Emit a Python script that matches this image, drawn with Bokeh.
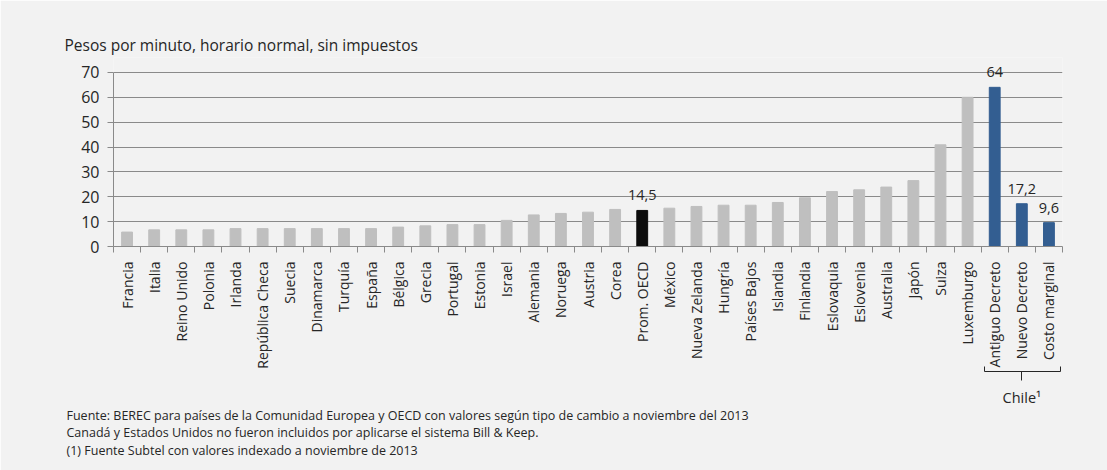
import math
from bokeh.plotting import figure
from bokeh.models import Range1d, FixedTicker, LabelSet, LinearAxis, ColumnDataSource, Title
from bokeh.core.properties import value
from bokeh.embed import file_html
from bokeh.resources import INLINE

# ---------------- data ----------------
categories = ["Francia", "Italia", "Reino Unido", "Polonia", "Irlanda", "República Checa",
              "Suecia", "Dinamarca", "Turquía", "España", "Bélgica", "Grecia", "Portugal",
              "Estonia", "Israel", "Alemania", "Noruega", "Austria", "Corea", "Prom. OECD",
              "México", "Nueva Zelanda", "Hungría", "Países Bajos", "Islandia", "Finlandia",
              "Eslovaquia", "Eslovenia", "Australia", "Japón", "Suiza", "Luxemburgo",
              "Antiguo Decreto", "Nuevo Decreto", "Costo marginal"]
values = [5.8, 6.7, 6.7, 6.7, 7.2, 7.2, 7.2, 7.2, 7.2, 7.2, 7.8, 8.3, 8.8, 8.8, 10.5,
          12.7, 13.3, 13.8, 14.9, 14.5, 15.4, 16.1, 16.6, 16.6, 17.7, 19.6, 22.1, 22.8,
          23.9, 26.5, 40.9, 60.0, 64.0, 17.2, 9.6]
groups = ["pais"] * 19 + ["promedio"] + ["pais"] * 12 + ["chile"] * 3
labeled_groups = ["promedio", "chile"]
y_ticks = [0, 10, 20, 30, 40, 50, 60, 70]
title_text = "Pesos por minuto, horario normal, sin impuestos"
notes = ["Fuente: BEREC para  países de  la Comunidad Europea  y  OECD con valores  según tipo de cambio a noviembre del 2013",
         "Canadá y Estados Unidos no fueron incluidos por aplicarse el sistema Bill & Keep.",
         "(1)  Fuente Subtel con valores indexado a noviembre de 2013"]
group_label = "Chile¹"

# ---------------- style ----------------
BG = "#f2f2f2"
GRID = "#8a8a8a"
TXT = "#262626"
FONT = "Open Sans"
colors = {"pais": "#bfbfbf", "promedio": "#0d0d0d", "chile": "#335e91"}
Y_VIEW_TOP = 76  # headroom so value labels are not clipped

n = len(categories)
xs = list(range(n))
src = ColumnDataSource(dict(x=xs, v=values, color=[colors[g] for g in groups]))

p = figure(width=1107, height=470,
           x_range=Range1d(-0.5, n - 0.5), y_range=Range1d(y_ticks[0], Y_VIEW_TOP),
           output_backend="svg", toolbar_location=None,
           min_border_left=113, min_border_right=45, min_border_top=57, min_border_bottom=224,
           background_fill_color=BG, border_fill_color=BG, outline_line_color=None)

p.title.text = title_text
p.title.align = "left"
p.title.offset = -49
p.title.standoff = 3
p.title.text_font = FONT
p.title.text_font_size = "15.5px"
p.title.text_font_style = "normal"
p.title.text_color = TXT

p.vbar(x="x", top="v", width=0.4, color="color", source=src)

# y axis
yt = FixedTicker(ticks=y_ticks)
p.yaxis.ticker = yt
p.yaxis.bounds = (y_ticks[0], y_ticks[-1])
p.ygrid.ticker = yt
p.ygrid.grid_line_color = GRID
p.xgrid.grid_line_color = None
p.yaxis.axis_line_color = GRID
p.yaxis.major_tick_line_color = GRID
p.yaxis.major_tick_out = 6
p.yaxis.major_tick_in = 0
p.yaxis.minor_tick_line_color = None
p.yaxis.major_label_text_font = FONT
p.yaxis.major_label_text_font_size = "16px"
p.yaxis.major_label_text_color = TXT
p.yaxis.major_label_standoff = 8

# x axis
xt = FixedTicker(ticks=xs, minor_ticks=[i - 0.5 for i in range(n + 1)])
p.xaxis.ticker = xt
p.xaxis.axis_line_color = GRID
p.xaxis.major_tick_line_color = None
p.xaxis.major_tick_out = 0
p.xaxis.major_tick_in = 0
p.xaxis.minor_tick_line_color = GRID
p.xaxis.minor_tick_out = 6
p.xaxis.minor_tick_in = 0
p.xaxis.major_label_overrides = {i: c for i, c in enumerate(categories)}
p.xaxis.major_label_orientation = math.pi / 2
p.xaxis.major_label_text_font = FONT
p.xaxis.major_label_text_font_size = "14px"
p.xaxis.major_label_text_color = TXT
p.xaxis.major_label_standoff = 9

# value labels for highlighted bars
lab_idx = [i for i, g in enumerate(groups) if g in labeled_groups]
lab_src = ColumnDataSource(dict(
    x=[xs[i] for i in lab_idx],
    v=[values[i] for i in lab_idx],
    t=[f"{values[i]:g}".replace(".", ",") for i in lab_idx]))
p.add_layout(LabelSet(x="x", y="v", text="t", source=lab_src, y_offset=10,
                      text_align="center", text_baseline="bottom",
                      text_font=value(FONT), text_font_size=value("14.5px"),
                      text_color=TXT))

# Chile bracket as a bounded secondary axis
chile_idx = [i for i, g in enumerate(groups) if g == "chile"]
x0, x1 = chile_idx[0] - 0.36, chile_idx[-1] + 0.44
xm = chile_idx[len(chile_idx) // 2]
br = LinearAxis(bounds=(x0 - 0.001, x1 + 0.001),
                ticker=FixedTicker(ticks=[xm], minor_ticks=[x0, x1]))
br.axis_line_color = TXT
br.major_tick_line_color = TXT
br.major_tick_out = 9
br.major_tick_in = 0
br.minor_tick_line_color = TXT
br.minor_tick_out = 0
br.minor_tick_in = 5
br.major_label_overrides = {xm: group_label}
br.major_label_text_font = FONT
br.major_label_text_font_size = "14.5px"
br.major_label_text_color = TXT
br.major_label_standoff = 7
p.add_layout(br, "below")

# footnotes (one multi-line block)
p.add_layout(Title(text="\n".join(notes), align="left", offset=-47, standoff=-9,
                   text_font=FONT, text_font_size="12.5px", text_font_style="normal",
                   text_line_height=1.03, text_color=TXT), "below")

open("out.html", "w").write(file_html(p, INLINE))
